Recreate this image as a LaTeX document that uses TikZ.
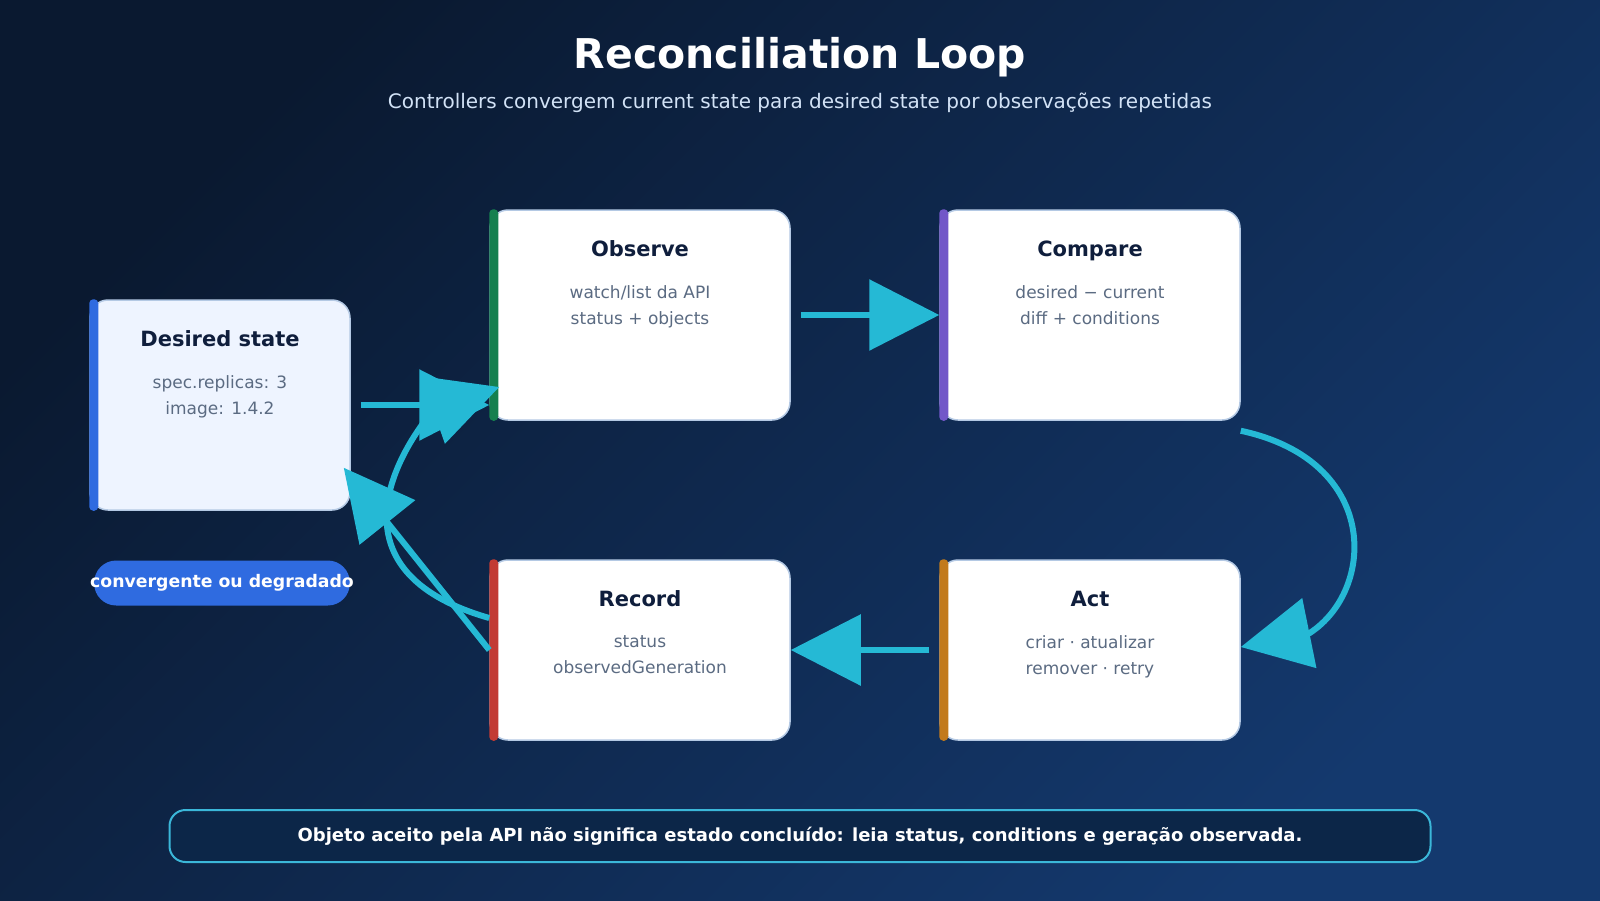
\documentclass[tikz,border=0pt]{standalone}
\usepackage{fontspec}
\setmainfont{DejaVu Sans}
\usepackage{xcolor}
\usetikzlibrary{positioning}
\usetikzlibrary{arrows.meta}
\definecolor{bgtop}{HTML}{0A1930}
\definecolor{bgbot}{HTML}{14396E}
\definecolor{ink}{HTML}{0F1E3C}
\definecolor{muted}{HTML}{5B6B82}
\definecolor{edge}{HTML}{B4C9E4}
\definecolor{flowc}{HTML}{25B9D5}
\definecolor{cblue}{HTML}{2F6BE0}
\definecolor{cgreen}{HTML}{15804F}
\definecolor{cpurple}{HTML}{7257C8}
\definecolor{cred}{HTML}{C23B34}
\definecolor{corange}{HTML}{C27A1C}
\definecolor{pale}{HTML}{EEF4FF}
\definecolor{subt}{HTML}{D2E2F6}
\definecolor{notebg}{HTML}{0C2648}
\definecolor{noteln}{HTML}{3BB7D9}
\tikzset{
  box/.style={draw=edge, line width=1.5pt, fill=white, rounded corners=18pt,
    minimum width=300pt, minimum height=210pt, inner sep=0pt},
  ttl/.style={font=\fontsize{21}{25}\selectfont\bfseries, text=ink},
  txt/.style={font=\fontsize{17}{26}\selectfont, text=muted, align=center},
  flow/.style={draw=flowc, line width=6pt, -{Triangle[length=70pt,width=70pt]}},
  badge/.style={fill=cblue, text=white, font=\fontsize{17.3}{20}\selectfont\bfseries,
    rounded corners=22pt, minimum width=255pt, minimum height=45pt,
    inner ysep=0pt, inner xsep=-4pt},
  note/.style={draw=noteln, line width=2pt, fill=notebg, rounded corners=16pt,
    text=white, font=\fontsize{18}{21}\selectfont\bfseries,
    minimum width=1261pt, minimum height=52pt}
}

\begin{document}
\begin{tikzpicture}[x=1pt,y=-1pt,node distance=450pt,on grid]
   \useasboundingbox (0,0) rectangle (1600,900);
   \shade[top color=bgtop, bottom color=bgbot, shading angle=45] (0,0) rectangle (1600,900);

   \node[font=\fontsize{41}{48}\selectfont\bfseries, text=white] (title) at (800,57) {Reconciliation Loop};
   \node[font=\fontsize{20}{24}\selectfont, text=subt] (sub) at (800,103)
      {Controllers convergem current state para desired state por observações repetidas};

   \node[box] (obs) at (640,315) {};
   \node[box] (cmp) [right=of obs] {};
   \node[box, minimum height=180pt] (rec) [below=335pt of obs] {};
   \node[box, minimum height=180pt] (act) [right=of rec] {};
   \node[box, fill=pale, minimum width=260pt] (des) [below left=90pt and 420pt of obs] {};

   \foreach \n/\c in {des/cblue, obs/cgreen, cmp/cpurple, rec/cred, act/corange}
      \fill[\c, rounded corners=4pt] (\n.north west) rectangle ([xshift=9pt]\n.south west);

   \node[ttl] (des-t) [below=28pt of des.north] {Desired state};
   \node[txt] (des-b) [below=73pt of des.north] {spec.replicas: 3\\image: 1.4.2};
   \node[ttl] (obs-t) [below=28pt of obs.north] {Observe};
   \node[txt] (obs-b) [below=73pt of obs.north] {watch/list da API\\status + objects};
   \node[ttl] (cmp-t) [below=28pt of cmp.north] {Compare};
   \node[txt] (cmp-b) [below=73pt of cmp.north] {desired − current\\diff + conditions};
   \node[ttl] (rec-t) [below=28pt of rec.north] {Record};
   \node[txt] (rec-b) [below=73pt of rec.north] {status\\observedGeneration};
   \node[ttl] (act-t) [below=28pt of act.north] {Act};
   \node[txt] (act-b) [below=73pt of act.north] {criar · atualizar\\remover · retry};

   \node[badge] (conv) [below right=178pt and 2pt of des] {convergente ou degradado};

   \draw[flow] ([xshift=10pt]des.east) -- (des.east -| obs.west);
   \draw[flow] ([xshift=10pt]obs.east) -- (cmp.west);
   \draw[flow] ([yshift=-10pt]cmp.south east) .. controls +(140,30) and +(66,-43) .. ([xshift=69pt,yshift=17pt]act.east) -- ([yshift=3pt]act.east);
   \draw[flow] ([xshift=-10pt]act.west) -- (rec.east);
   \draw[flow] (rec.west) -- ([xshift=-7pt,yshift=43pt]des.south east);
   \draw[flow] ([yshift=32pt]rec.west) .. controls +(-150,-43) and +(-49,60) .. ([xshift=-56pt,yshift=-95pt]obs.west) -- ([xshift=10pt,yshift=-72pt]obs.west);

   \node[note] (msg) at (800,836)
      {Objeto aceito pela API não significa estado concluído: leia status, conditions e geração observada.};
\end{tikzpicture}
\end{document}
